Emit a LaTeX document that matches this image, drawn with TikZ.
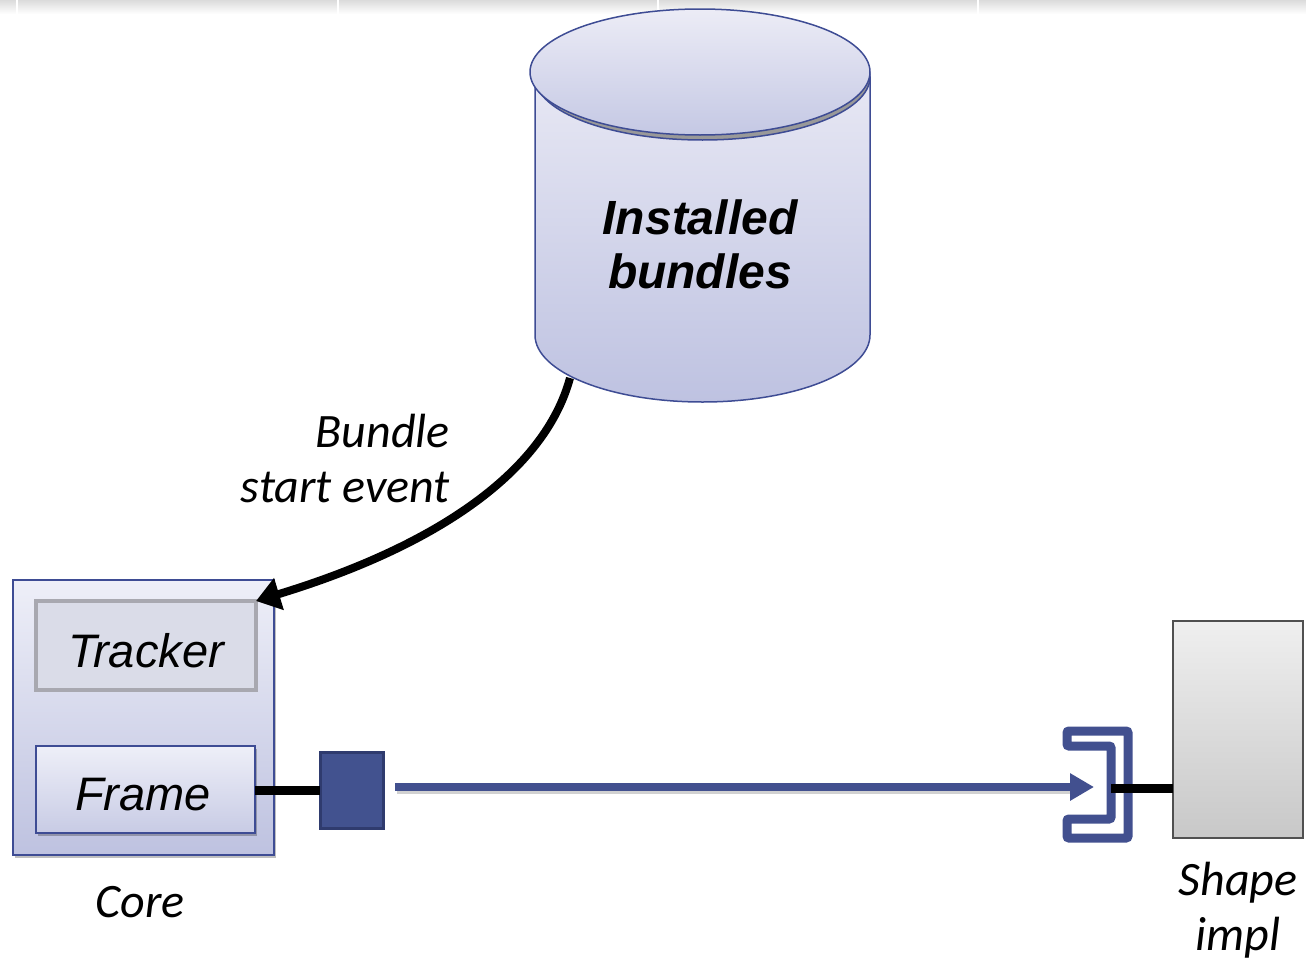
\documentclass[tikz,border=0pt]{standalone}
\usepackage{fontspec}
\usetikzlibrary{arrows.meta,shadows}
\newfontfamily\arialf{Liberation Sans}
\newfontfamily\calif{Carlito}
\definecolor{bdblue}{HTML}{3E4C94}
\definecolor{cylTop}{HTML}{ECECF6}
\definecolor{cylBot}{HTML}{BEC2E1}
\definecolor{coreTop}{HTML}{EEEFF8}
\definecolor{coreBot}{HTML}{BEC2E0}
\definecolor{trkFill}{HTML}{DADCE8}
\definecolor{trkDraw}{HTML}{A8A8B0}
\definecolor{sqFill}{HTML}{42528F}
\definecolor{sqDraw}{HTML}{2F3B6E}
\definecolor{arBlue}{HTML}{42508F}
\definecolor{shTop}{HTML}{EFEFEF}
\definecolor{shBot}{HTML}{C8C8C8}
\definecolor{shDraw}{HTML}{505050}
\tikzset{
  boxbase/.style={rectangle, inner sep=0pt, outer sep=0pt},
  bigtxt/.style={font=\arialf\fontsize{47}{52}\selectfont\itshape, anchor=base, inner sep=0pt},
  caltxt/.style={font=\calif\fontsize{48}{56}\selectfont\itshape, inner sep=0pt},
  softshadow/.style={drop shadow={shadow xshift=2pt, shadow yshift=-3pt, opacity=0.25, fill=black}},
}
\begin{document}
\begin{tikzpicture}[x=1pt,y=-1pt]
\useasboundingbox (0,0) rectangle (1306,961);
% top band
\shade[top color=black!14, bottom color=white] (0,0) rectangle (1306,14);
\foreach \xx in {17,338,658,978} \fill[white] (\xx-1,0) rectangle (\xx+1,14);

% cylinder body
\shade[top color=cylTop!90!cylBot, bottom color=cylBot, draw=bdblue, line width=1.5pt]
  (535,77) -- (535,335) arc[start angle=180, end angle=360, x radius=167.5pt, y radius=67pt]
  -- (870,77) -- cycle;
\draw[bdblue, line width=1.5pt, fill=black!40] (702.5,77) ellipse[x radius=167.5pt, y radius=63pt];
\shade[top color=cylTop, bottom color=cylBot!90!white, draw=bdblue, line width=1.5pt]
  (700,72) ellipse[x radius=170pt, y radius=63pt];
\node[font=\arialf\fontsize{48}{54}\selectfont\bfseries\itshape, anchor=base, inner sep=0pt] (inst) at (700,234) {Installed};
\node[font=\arialf\fontsize{48}{54}\selectfont\bfseries\itshape, anchor=base, inner sep=0pt] (bund) at (700,288) {bundles};
\coordinate (cylfoot) at (570,378);

% Core box
\node[boxbase, minimum width=261pt, minimum height=275pt, top color=coreTop, bottom color=coreBot, draw=bdblue, line width=1.5pt, softshadow] (core) at (143.5,717.5) {};
\node[boxbase, minimum width=220pt, minimum height=89pt, fill=trkFill, draw=trkDraw, line width=4pt] (tracker) at (146,645.5) {};
\node[boxbase, minimum width=219pt, minimum height=87pt, top color=coreTop, bottom color=coreBot!85!white, draw=bdblue, line width=1.5pt, softshadow] (frame) at (145.5,789.5) {};
\node[bigtxt] (trktxt) at (146,667) {Tracker};
\node[bigtxt] (frmtxt) at (143,810) {Frame};
\node[caltxt, anchor=base] (coretxt) at (140,917) {Core};

% event arrow
\draw[line width=8pt, -{Triangle[length=24pt,width=32pt]}] (cylfoot) .. controls (545,470) and (440,545) .. (tracker.north east);
\node[caltxt, anchor=base east] (lbl1) at (450,447) {Bundle};
\node[caltxt, anchor=base east] (lbl2) at (450,502) {start event};

% port square and wire
\node[boxbase, minimum width=63pt, minimum height=76pt, fill=sqFill, draw=sqDraw, line width=3pt] (sq) at (351.5,790) {};
\draw[line width=9pt] (frame.east |- 0,790) -- (sq.west |- 0,790);

% socket bracket
\draw[arBlue, line width=9pt, rounded corners=2pt, fill=white]
  (1067,731) -- (1128,731) -- (1128,838) -- (1067,838) -- (1067,819) -- (1111,819) -- (1111,746) -- (1067,746) -- cycle;
\coordinate (brk) at (1111,788);
\coordinate (sock) at (1094,787);
\coordinate (arrstart) at (395,787);
\draw[black, opacity=0.18, line width=7pt] ([xshift=2pt,yshift=-3pt]arrstart) -- ([xshift=-22pt,yshift=-3pt]sock);
\draw[arBlue, line width=8pt, -{Triangle[length=24pt,width=26pt]}] (arrstart) -- (sock);

% Shape impl
\node[boxbase, minimum width=130pt, minimum height=217pt, top color=shTop, bottom color=shBot, draw=shDraw, line width=1.5pt] (shape) at (1238,729.5) {};
\draw[line width=9pt] (brk) -- (shape.west |- brk);
\node[caltxt, anchor=base] (sh1) at (1238,895) {Shape};
\node[caltxt, anchor=base] (sh2) at (1238,950) {impl};
\end{tikzpicture}
\end{document}
